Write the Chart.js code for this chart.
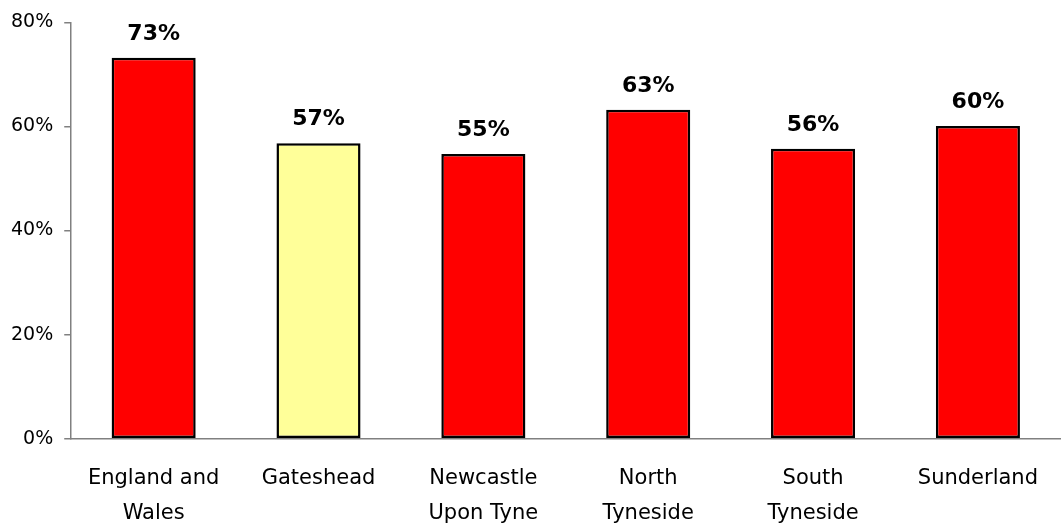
<!DOCTYPE html>
<html>
<head>
<meta charset="utf-8">
<script src="https://cdn.jsdelivr.net/npm/chart.js@4"></script>
<style>
  html, body { margin: 0; padding: 0; background: #fff; }
  #wrap { width: 1061px; height: 525px; }
</style>
</head>
<body>
<div id="wrap"><canvas id="grafico"></canvas></div>
<script>
const categorias = [["England and", "Wales"], "Gateshead", ["Newcastle", "Upon Tyne"], ["North", "Tyneside"], ["South", "Tyneside"], "Sunderland"];
const valores = [73.2, 56.8, 54.7, 63.2, 55.7, 60.1];
const rotulos = ["73%", "57%", "55%", "63%", "56%", "60%"];
const cores = ["#ff0000", "#ffff99", "#ff0000", "#ff0000", "#ff0000", "#ff0000"];
const ticksY = [0, 20, 40, 60, 80];

// desenha os rótulos em cima das barras
const rotulosPlugin = {
  id: "rotulos",
  afterDatasetsDraw(chart) {
    const ctx = chart.ctx;
    const meta = chart.getDatasetMeta(0);
    ctx.save();
    ctx.font = "bold 22px 'DejaVu Sans'";
    ctx.fillStyle = "#000";
    ctx.textAlign = "center";
    ctx.textBaseline = "bottom";
    meta.data.forEach(function (bar, i) {
      ctx.fillText(rotulos[i], bar.x, bar.y - 13);
    });
    ctx.restore();
  }
};

const ctx = document.getElementById("grafico").getContext("2d");
new Chart(ctx, {
  type: "bar",
  data: {
    labels: categorias,
    datasets: [{
      data: valores,
      backgroundColor: cores,
      borderColor: "#000",
      borderWidth: 2.5,
      borderSkipped: false,
      barPercentage: 0.51,
      categoryPercentage: 1
    }]
  },
  options: {
    responsive: true,
    maintainAspectRatio: false,
    animation: false,
    layout: { padding: { top: 13, right: 0, left: 0, bottom: -29 } },
    plugins: {
      legend: { display: false },
      tooltip: { enabled: false }
    },
    scales: {
      x: {
        grid: { display: false, drawTicks: false },
        border: { color: "#808080", width: 1.5 },
        ticks: {
          color: "#000",
          font: { family: "'DejaVu Sans'", size: 21, lineHeight: 1.65 },
          padding: 23,
          maxRotation: 0,
          autoSkip: false
        }
      },
      y: {
        min: 0,
        max: 80,
        afterBuildTicks: function (axis) {
          axis.ticks = ticksY.map(function (v) { return { value: v }; });
        },
        grid: { drawOnChartArea: false, tickLength: 7, color: "#808080", lineWidth: 1.5 },
        border: { color: "#808080", width: 1.5 },
        ticks: {
          color: "#000",
          font: { family: "'DejaVu Sans'", size: 19 },
          padding: 11,
          callback: function (v) { return v + "%"; }
        }
      }
    }
  },
  plugins: [rotulosPlugin]
});
</script>
</body>
</html>
